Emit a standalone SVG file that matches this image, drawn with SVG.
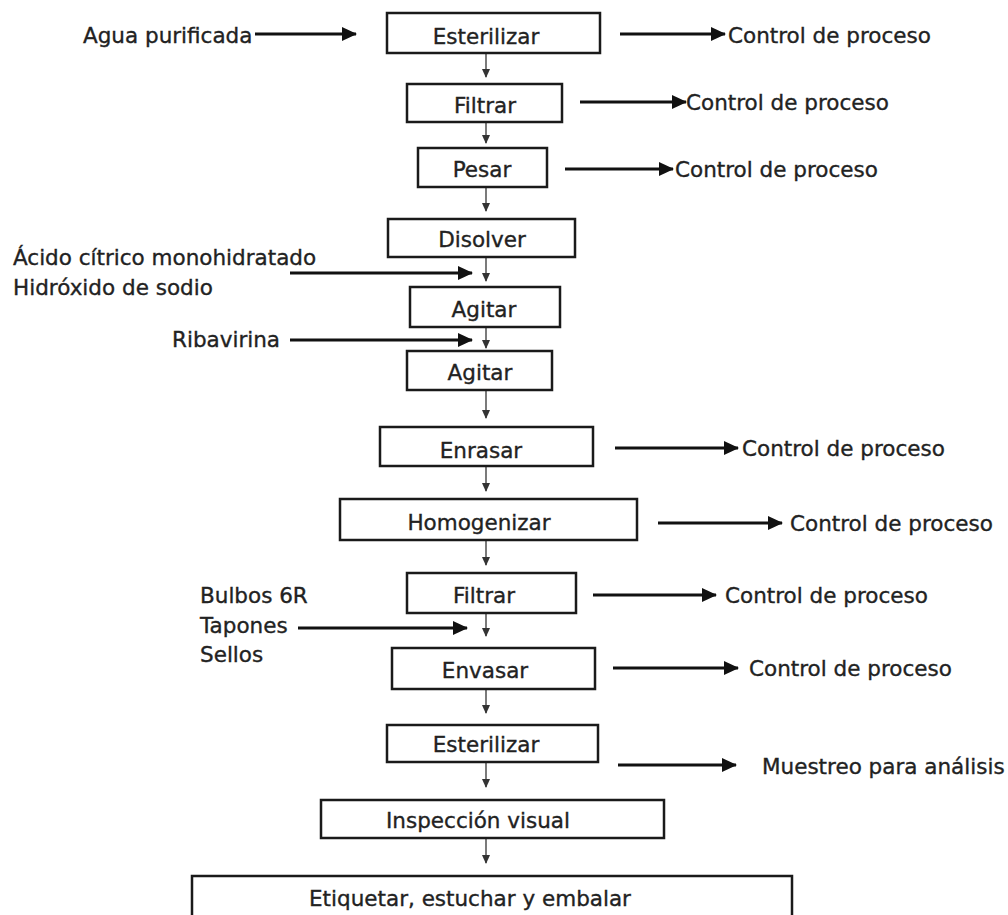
<svg xmlns="http://www.w3.org/2000/svg" width="1008" height="915" viewBox="0 0 1008 915">
<style>
.box{fill:#fff;stroke:#1a1a1a;stroke-width:2.5}
.t{font-family:"DejaVu Sans",Verdana,sans-serif;font-size:21.5px;fill:#222;stroke:#222;stroke-width:0.35}
.c{text-anchor:middle}
.dn{stroke:#333;stroke-width:1.3;fill:none;marker-end:url(#sm)}
.hz{stroke:#111;stroke-width:3;fill:none;marker-end:url(#bg)}
</style>
<defs>
<marker id="sm" markerWidth="10" markerHeight="10" refX="8" refY="5" orient="auto" markerUnits="userSpaceOnUse"><path d="M0,1 L9,5 L0,9 Z" fill="#333"/></marker>
<marker id="bg" markerWidth="16" markerHeight="16" refX="14" refY="8" orient="auto" markerUnits="userSpaceOnUse"><path d="M0,1 L15,8 L0,15 Z" fill="#111"/></marker>
</defs>
<rect width="1008" height="915" fill="#fff"/>
<g id="connectors">
<path class="hz" d="M255,34 H356"/>
<path class="hz" d="M620,34 H725"/>
<path class="dn" d="M486,53 V77"/>
<path class="hz" d="M580,102 H686"/>
<path class="dn" d="M486,122 V143"/>
<path class="hz" d="M565,169 H673"/>
<path class="dn" d="M486,187 V211"/>
<path class="hz" d="M290,273 H472"/>
<path class="dn" d="M486,257 V281"/>
<path class="hz" d="M290,340 H472"/>
<path class="dn" d="M486,327 V348"/>
<path class="dn" d="M486,390 V418"/>
<path class="hz" d="M615,448 H738"/>
<path class="dn" d="M486,466 V491"/>
<path class="hz" d="M658,523 H782"/>
<path class="dn" d="M486,540 V565"/>
<path class="hz" d="M593,595 H716"/>
<path class="hz" d="M298,628 H467"/>
<path class="dn" d="M486,613 V636"/>
<path class="hz" d="M613,668 H738"/>
<path class="dn" d="M486,689 V713"/>
<path class="hz" d="M618,765 H736"/>
<path class="dn" d="M486,762 V787"/>
<path class="dn" d="M486,838 V863"/>
</g>
<g id="n1"><rect class="box" x="387" y="13" width="213" height="40"/><text class="t c" x="486" y="44">Esterilizar</text></g>
<g id="n2"><rect class="box" x="407" y="84" width="155" height="38"/><text class="t c" x="485" y="113">Filtrar</text></g>
<g id="n3"><rect class="box" x="418" y="148" width="129" height="39"/><text class="t c" x="482" y="177">Pesar</text></g>
<g id="n4"><rect class="box" x="388" y="219" width="187" height="38"/><text class="t c" x="482" y="247">Disolver</text></g>
<g id="n5"><rect class="box" x="410" y="287" width="150" height="40"/><text class="t c" x="484" y="317">Agitar</text></g>
<g id="n6"><rect class="box" x="407" y="351" width="145" height="39"/><text class="t c" x="480" y="380">Agitar</text></g>
<g id="n7"><rect class="box" x="380" y="427" width="213" height="39"/><text class="t c" x="481" y="458">Enrasar</text></g>
<g id="n8"><rect class="box" x="340" y="499" width="297" height="41"/><text class="t c" x="479" y="530">Homogenizar</text></g>
<g id="n9"><rect class="box" x="407" y="573" width="169" height="40"/><text class="t c" x="484" y="603">Filtrar</text></g>
<g id="n10"><rect class="box" x="392" y="648" width="203" height="41"/><text class="t c" x="485" y="678">Envasar</text></g>
<g id="n11"><rect class="box" x="387" y="725" width="211" height="37"/><text class="t c" x="486" y="752">Esterilizar</text></g>
<g id="n12"><rect class="box" x="321" y="800" width="343" height="38"/><text class="t c" x="478" y="828">Inspección visual</text></g>
<g id="n13"><rect class="box" x="192" y="876" width="600" height="45"/><text class="t c" x="470" y="906">Etiquetar, estuchar y embalar</text></g>
<g id="labels">
<text class="t" x="83" y="43">Agua purificada</text>
<text class="t" x="728" y="43">Control de proceso</text>
<text class="t" x="686" y="110">Control de proceso</text>
<text class="t" x="675" y="177">Control de proceso</text>
<text class="t" x="13" y="265">Ácido cítrico monohidratado</text>
<text class="t" x="13" y="295">Hidróxido de sodio</text>
<text class="t" x="172" y="347">Ribavirina</text>
<text class="t" x="742" y="456">Control de proceso</text>
<text class="t" x="790" y="531">Control de proceso</text>
<text class="t" x="725" y="603">Control de proceso</text>
<text class="t" x="200" y="603">Bulbos 6R</text>
<text class="t" x="200" y="633">Tapones</text>
<text class="t" x="200" y="662">Sellos</text>
<text class="t" x="749" y="676">Control de proceso</text>
<text class="t" x="762" y="774">Muestreo para análisis</text>
</g>
</svg>
